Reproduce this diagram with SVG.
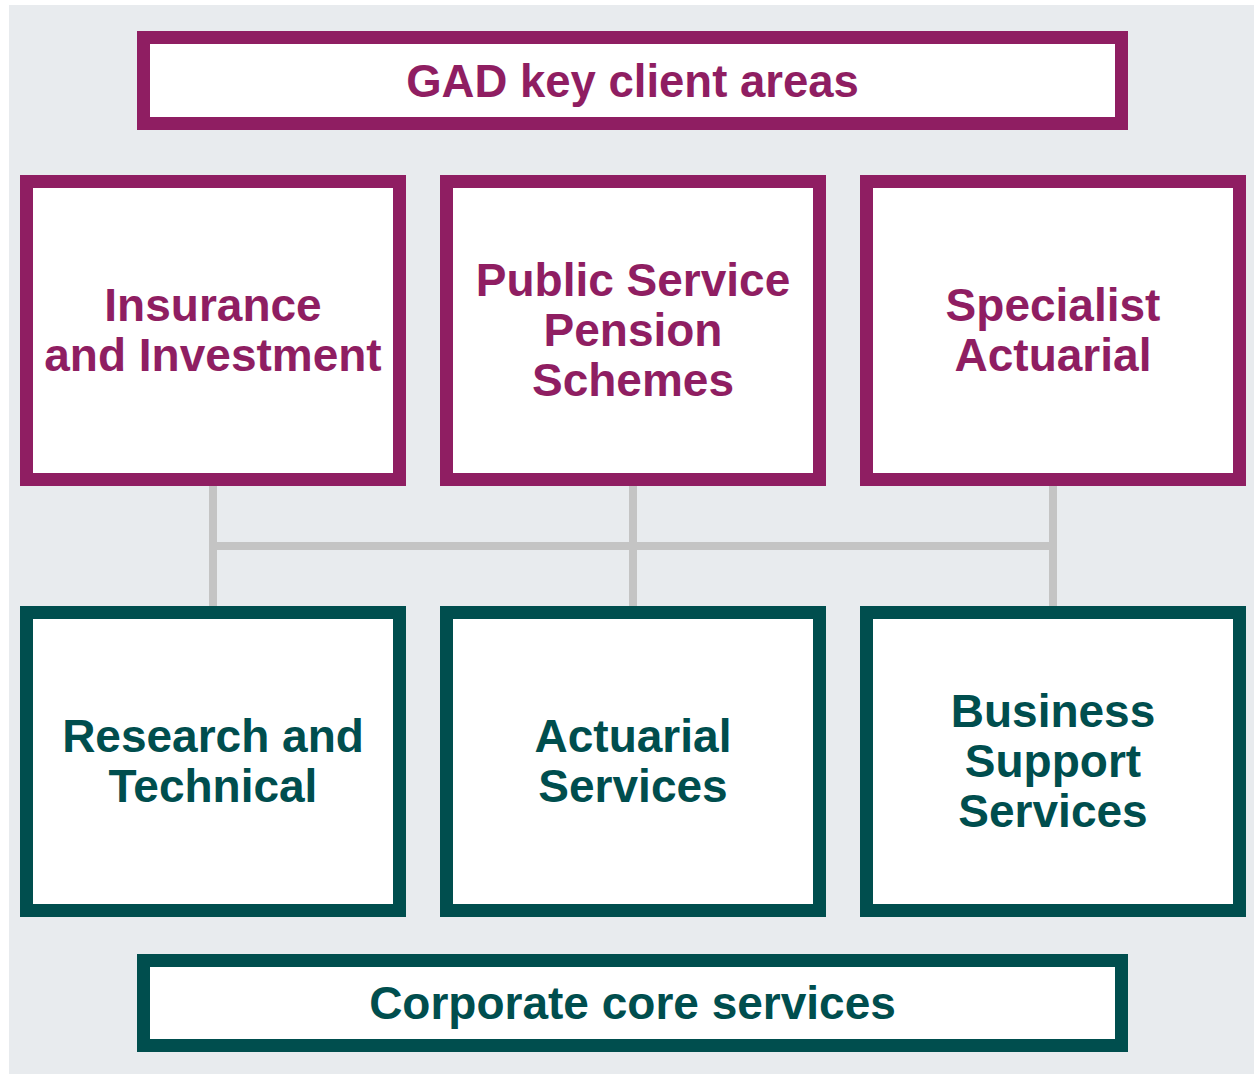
<svg xmlns="http://www.w3.org/2000/svg" width="1254" height="1074" viewBox="0 0 1254 1074">
<style>
.bg{fill:#e8ebee}
.p{fill:#ffffff;stroke:#8f1e62;stroke-width:13}
.g{fill:#ffffff;stroke:#004e4e;stroke-width:13}
.line{stroke:#c4c4c4;stroke-width:8;fill:none}
text{font-family:"Liberation Sans",Arial,Helvetica,sans-serif;font-weight:bold;text-anchor:middle}
.tp{fill:#8f1e62;font-size:46px}
.tg{fill:#004e4e;font-size:46px}
.bp{fill:#8f1e62;font-size:45.5px}
.bgt{fill:#004e4e;font-size:46px}
</style>
<rect class="bg" x="9" y="5" width="1245" height="1069"/>
<g id="connectors">
<line class="line" x1="213" y1="486" x2="213" y2="606"/>
<line class="line" x1="633" y1="486" x2="633" y2="606"/>
<line class="line" x1="1053" y1="486" x2="1053" y2="606"/>
<line class="line" x1="213" y1="546" x2="1053" y2="546"/>
</g>
<g id="gad-key-client-areas">
<rect class="p" x="143.5" y="37.5" width="978" height="86"/>
<text class="bp" x="632.5" y="97">GAD key client areas</text>
</g>
<g id="insurance-and-investment">
<rect class="p" x="26.5" y="181.5" width="373" height="298"/>
<text class="tp" x="213" y="321">Insurance</text>
<text class="tp" x="213" y="371">and Investment</text>
</g>
<g id="public-service-pension-schemes">
<rect class="p" x="446.5" y="181.5" width="373" height="298"/>
<text class="tp" x="633" y="296">Public Service</text>
<text class="tp" x="633" y="346">Pension</text>
<text class="tp" x="633" y="396">Schemes</text>
</g>
<g id="specialist-actuarial">
<rect class="p" x="866.5" y="181.5" width="373" height="298"/>
<text class="tp" x="1053" y="321">Specialist</text>
<text class="tp" x="1053" y="371">Actuarial</text>
</g>
<g id="research-and-technical">
<rect class="g" x="26.5" y="612.5" width="373" height="298"/>
<text class="tg" x="213" y="752">Research and</text>
<text class="tg" x="213" y="802">Technical</text>
</g>
<g id="actuarial-services">
<rect class="g" x="446.5" y="612.5" width="373" height="298"/>
<text class="tg" x="633" y="752">Actuarial</text>
<text class="tg" x="633" y="802">Services</text>
</g>
<g id="business-support-services">
<rect class="g" x="866.5" y="612.5" width="373" height="298"/>
<text class="tg" x="1053" y="727">Business</text>
<text class="tg" x="1053" y="777">Support</text>
<text class="tg" x="1053" y="827">Services</text>
</g>
<g id="corporate-core-services">
<rect class="g" x="143.5" y="960.5" width="978" height="85"/>
<text class="bgt" x="632.5" y="1019">Corporate core services</text>
</g>
</svg>
